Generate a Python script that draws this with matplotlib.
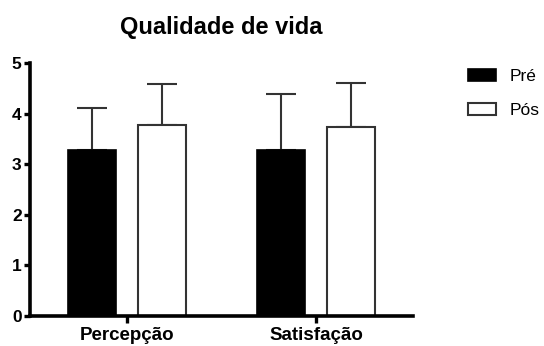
import numpy as np
import matplotlib.pyplot as plt

plt.rcParams['font.family'] = ['Liberation Sans', 'DejaVu Sans']

categorias = ['Percepção', 'Satisfação']
pre_media = [3.29, 3.28]
pre_dp = [0.83, 1.11]
pos_media = [3.78, 3.73]
pos_dp = [0.81, 0.88]

x = np.arange(len(categorias))
w = 0.254
off = 0.187

fig = plt.figure(figsize=(5.44, 3.46), dpi=100)
ax = fig.add_axes([0.0551, 0.0867, 0.7040, 0.7313])

ax.bar(x - off, pre_media, w, color='black', edgecolor='black', linewidth=1.2,
       label='Pré', zorder=2)
ax.bar(x + off, pos_media, w, color='white', edgecolor='#333333', linewidth=1.5,
       label='Pós', zorder=2)
ax.errorbar(x - off, pre_media, yerr=[np.zeros(2), pre_dp], fmt='none',
            ecolor='#333333', elinewidth=1.5, capsize=11, capthick=1.5, zorder=1)
ax.errorbar(x + off, pos_media, yerr=[np.zeros(2), pos_dp], fmt='none',
            ecolor='#333333', elinewidth=1.5, capsize=11, capthick=1.5, zorder=1)

ax.set_xlim(-0.513, 1.513)
ax.set_ylim(0, 5)
ax.set_yticks(range(6))
ax.set_xticks(x)
ax.set_xticklabels(categorias, fontsize=13.5, fontweight='bold')
for lab in ax.get_yticklabels():
    lab.set_fontsize(12.5)
    lab.set_fontweight('bold')

for s in ['top', 'right']:
    ax.spines[s].set_visible(False)
for s in ['left', 'bottom']:
    ax.spines[s].set_linewidth(2.6)
ax.tick_params(axis='y', length=4, width=2.4, pad=2)
ax.tick_params(axis='x', length=5, width=2.4, pad=3)

ax.set_title('Qualidade de vida', fontsize=17, fontweight='bold', pad=21)

ax.legend(loc='upper left', bbox_to_anchor=(1.125, 1.004), borderaxespad=0,
          frameon=False, fontsize=12.5, handlelength=1.6, handleheight=0.65,
          handletextpad=0.8, labelspacing=1.1)

fig.savefig('out.png', dpi=100)
